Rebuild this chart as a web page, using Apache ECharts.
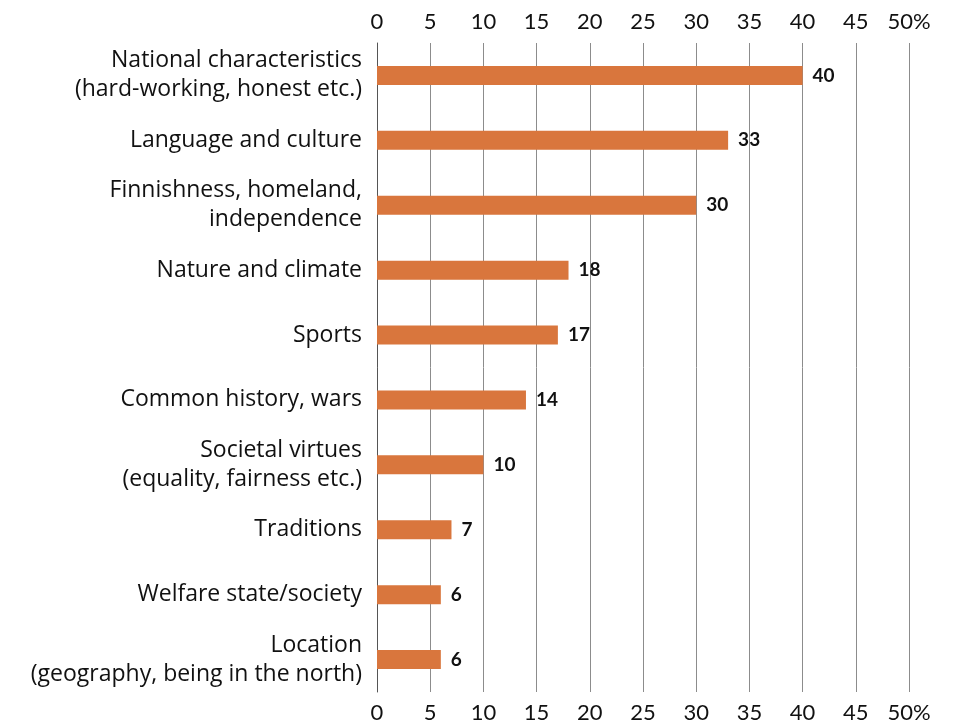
<!DOCTYPE html>
<html>
<head>
<meta charset="utf-8">
<script src="https://cdn.jsdelivr.net/npm/echarts@6/dist/echarts.min.js"></script>
<style>
  html, body { margin: 0; padding: 0; background: #fff; }
  #chart { width: 964px; height: 726px; }
</style>
</head>
<body>
<div id="chart"></div>
<script>
// categories, top to bottom
const categories = [
  'National characteristics\n(hard-working, honest etc.)',
  'Language and culture',
  'Finnishness, homeland,\nindependence',
  'Nature and climate',
  'Sports',
  'Common history, wars',
  'Societal virtues\n(equality, fairness etc.)',
  'Traditions',
  'Welfare state/society',
  'Location\n(geography, being in the north)'
];
const shares = [40, 33, 30, 18, 17, 14, 10, 7, 6, 6];
const axisMax = 50;
const axisStep = 5;

const FONT = 'Lato, "Noto Sans", sans-serif';
const CAT_FONT = '"Open Sans", "Noto Sans", sans-serif';
const BAR = '#d9763d';

const tickLabel = {
  fontFamily: FONT,
  fontSize: 22,
  color: '#111',
  formatter: v => (v === axisMax ? v + '%' : String(v))
};

const chart = echarts.init(document.getElementById('chart'));
chart.setOption({
  animation: false,
  grid: { left: 377, right: 55, top: 43, bottom: 34 },
  xAxis: [
    {
      type: 'value', position: 'top', min: 0, max: axisMax, interval: axisStep,
      axisLine: { show: false }, axisTick: { show: false },
      axisLabel: Object.assign({ margin: 10 }, tickLabel),
      splitLine: { show: true, lineStyle: { color: '#8c8c8c', width: 1 } }
    },
    {
      type: 'value', position: 'bottom', min: 0, max: axisMax, interval: axisStep,
      axisLine: { show: false }, axisTick: { show: false },
      axisLabel: Object.assign({ margin: 10 }, tickLabel),
      splitLine: { show: false }
    }
  ],
  yAxis: {
    type: 'category', data: categories, inverse: true,
    axisLine: { show: true, lineStyle: { color: '#555', width: 1 } },
    axisTick: { show: false },
    axisLabel: {
      fontFamily: CAT_FONT, fontSize: 23, color: '#111', margin: 15,
      lineHeight: 29, align: 'right'
    }
  },
  series: [{
    type: 'bar', xAxisIndex: 0, data: shares, barWidth: 19,
    itemStyle: { color: BAR },
    label: {
      show: true, position: 'right', distance: 10,
      fontFamily: FONT, fontSize: 19, fontWeight: 'bold', color: '#111'
    }
  }]
});
</script>
</body>
</html>
